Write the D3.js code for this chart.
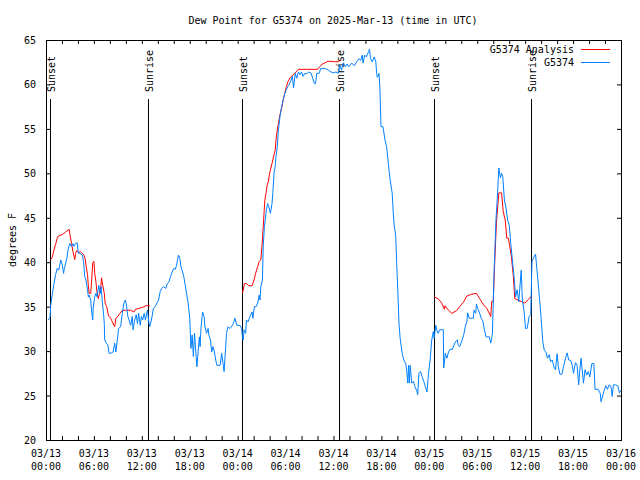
<!DOCTYPE html>
<html><head><meta charset="utf-8">
<script src="https://cdn.jsdelivr.net/npm/d3@7/dist/d3.min.js"></script>
<style>
body{margin:0;background:#fff;}
text{font-family:"DejaVu Sans Mono",monospace;font-size:10px;fill:#000;}
</style></head>
<body><svg id="c" width="640" height="480"></svg>
<script>
// ---- data (hours since 2025-03-13 00:00 UTC) ----
const titleText = "Dew Point for G5374 on 2025-Mar-13 (time in UTC)";
const yLabel = "degrees F";
const yTicks = [20,25,30,35,40,45,50,55,60,65];
const xLabelHours = [0,6,12,18,24,30,36,42,48,54,60,66,72];
const sunEvents = ["Sunset","Sunrise","Sunset","Sunrise","Sunset","Sunrise"];
const sunHours = [0.54,12.81,24.58,36.73,48.62,60.77];
const seriesNames = ["G5374 Analysis","G5374"];

const obsHours = [0.25,0.5,0.6,0.8,1.0,1.2,1.4,1.6,1.85,2.05,2.2,2.3,2.6,2.8,3.0,3.2,3.35,3.5,3.7,3.9,4.05,4.25,4.55,4.7,4.85,5.0,5.2,5.3,5.4,5.6,5.7,5.85,5.9,6.1,6.25,6.4,6.6,6.8,6.9,7.05,7.2,7.3,7.35,7.55,7.75,7.9,8.2,8.4,8.6,8.75,8.9,9.1,9.35,9.55,9.75,9.95,10.1,10.25,10.4,10.6,10.8,10.9,11.1,11.3,11.45,11.6,11.8,11.95,12.1,12.3,12.45,12.7,12.9,13.0,13.2,13.45,
13.65,13.9,14.1,14.3,14.5,14.7,15.0,15.2,15.4,15.6,15.8,16.0,16.2,16.35,16.5,16.6,16.75,16.9,17.1,17.25,17.4,17.6,17.8,18.0,18.15,18.3,18.45,18.6,18.8,18.9,19.0,19.2,19.3,19.4,19.6,19.8,19.9,20.1,20.3,20.4,20.6,20.75,20.9,21.1,21.25,21.4,21.8,22.0,22.2,22.3,22.5,22.6,22.8,23.0,23.2,23.45,23.65,23.9,24.3,24.5,24.6,
24.7,24.8,25.0,25.1,25.3,25.55,25.8,25.9,26.1,26.3,26.5,26.7,26.8,26.9,27.1,27.2,27.35,27.5,27.6,27.75,27.9,28.1,28.3,28.4,28.55,28.7,28.8,28.96,29.1,29.3,29.5,29.7,29.9,30.1,30.25,30.4,30.6,30.85,31.0,31.2,31.4,31.6,31.8,32.0,32.2,32.4,32.65,32.9,33.2,33.4,33.6,33.75,33.9,34.2,34.4,34.7,35.0,35.35,35.7,35.98,36.3,36.6,
36.8,37.0,37.2,37.5,37.7,37.9,38.3,38.6,38.9,39.2,39.4,39.6,39.7,39.9,40.1,40.4,40.5,40.65,40.85,41.1,41.3,41.4,41.5,41.7,41.8,41.95,42.2,42.45,42.65,42.8,42.95,43.1,43.35,43.5,43.6,43.8,43.9,44.05,44.2,44.35,44.6,44.8,45.05,45.2,45.3,45.4,45.5,45.6,45.8,46.0,46.2,46.4,46.55,46.7,46.9,47.1,47.3,47.5,47.7,47.9,48.1,48.3,48.5,48.6,48.8,49.0,49.1,49.3,49.75,49.8,50.0,50.2,50.4,50.6,50.9,51.1,51.3,51.5,51.6,51.8,52.05,52.3,52.5,52.7,52.8,53.0,53.5,53.6,53.8,53.9,54.05,54.25,54.5,54.7,54.9,55.1,55.5,55.7,55.9,56.1,56.35,56.5,56.7,56.9,57.05,57.2,57.4,57.6,57.8,58.0,58.2,58.4,58.65,58.8,59.0,59.2,59.5,59.65,59.85,60.05,60.25,60.5,60.7,60.85,61.1,61.3,61.5,61.7,62.0,62.2,62.4,62.6,62.8,63.0,63.2,63.4,63.6,63.8,64.0,64.15,64.35,64.6,64.8,65.0,65.25,65.46,65.7,65.9,66.05,66.3,66.5,66.7,66.8,67.0,67.1,67.3,67.5,67.7,67.9,68.1,68.35,68.6,68.75,69.15,69.4,69.5,69.7,69.9,70.1,70.3,70.5,70.75,70.9,71.05,71.3,71.6,71.8,72.0];
const obsValues = [33.5,33.7,35.2,36.5,37.6,38.6,39.3,39.1,40.25,39.7,38.75,39.3,40.4,41.6,42.1,41.75,42.1,41.8,42.1,42.2,41.0,41.0,40.8,40.1,38.4,38.0,36.9,36.1,36.3,35.75,34.6,33.5,34.8,36.1,36.5,36.1,37.4,36.5,37.25,35.55,34.25,33.1,31.25,30.9,30.7,29.75,29.8,29.9,30.9,29.9,31.05,32.55,32.75,34.25,35.4,35.75,35.0,33.9,33.5,32.9,33.9,32.4,33.5,34.1,33.1,34.25,32.9,33.9,33.5,34.25,33.5,34.6,33.1,32.75,33.5,34.8,
35.0,35.4,35.75,36.7,37.05,37.25,37.05,37.6,37.8,38.4,38.9,39.3,39.2,39.7,40.4,40.8,40.4,39.5,38.9,38.4,37.6,36.5,35.4,33.7,30.3,31.8,29.4,32.0,29.4,28.25,29.4,31.6,30.5,32.55,34.4,33.9,32.75,32.0,32.55,31.8,31.25,29.9,30.5,29.9,29.0,28.4,28.4,29.75,28.4,27.7,30.5,32.0,32.75,32.55,32.7,33.1,33.7,32.9,32.9,32.55,31.6,
31.25,32.4,32.0,33.5,33.3,33.9,34.4,33.7,35.0,35.0,35.4,36.3,35.75,37.25,38.0,41.75,44.0,45.1,45.9,46.6,46.25,45.5,46.6,47.75,50.0,50.75,51.9,53.0,54.9,56.4,57.5,58.25,59.0,59.4,59.75,59.9,60.3,60.9,59.6,61.25,60.7,61.4,61.1,61.4,60.9,61.25,61.2,61.4,61.25,60.7,60.1,60.1,61.25,61.25,61.8,61.8,61.8,61.6,61.4,61.3,61.4,61.25,
62.2,61.6,62.4,62.0,62.3,62.0,62.4,62.1,62.55,62.9,62.7,63.3,62.4,63.3,63.1,63.7,63.96,62.9,62.55,63.1,62.55,61.25,60.8,61.25,59.75,55.25,55.25,53.75,53.0,51.7,50.4,49.25,47.75,45.3,44.2,42.9,40.1,36.9,33.1,31.4,29.75,29.0,28.6,27.5,26.4,28.4,26.4,28.4,26.4,26.6,26.0,25.6,25.1,27.5,27.7,27.1,26.6,26.0,25.4,27.5,29.0,31.25,32.2,31.4,32.9,32.2,32.0,32.4,32.4,28.1,29.75,29.2,29.9,30.2,30.2,30.7,31.1,31.25,30.7,30.5,31.1,31.8,32.75,33.3,34.3,33.7,33.7,34.6,34.25,35.3,34.8,34.4,33.7,33.4,32.4,31.6,31.6,30.9,32.0,38.75,44.9,47.0,50.6,49.5,50.0,49.6,47.0,46.1,44.75,44.2,42.1,40.25,38.0,36.1,36.9,35.55,39.1,35.75,34.6,32.55,32.55,33.9,34.1,40.1,40.6,40.9,38.9,36.9,33.7,31.1,30.05,29.9,29.2,29.6,28.8,29.0,28.25,27.9,29.7,28.25,27.4,27.4,28.25,29.0,29.8,29.0,28.95,28.4,27.5,28.7,28.4,26.2,27.5,29.2,28.25,26.4,27.9,27.3,27.7,27.1,28.6,28.6,25.7,25.7,25.25,24.3,24.95,25.6,26.1,25.7,26.2,26.0,24.9,26.2,26.2,26.1,25.3,25.6];

// analysis: null marks a gap between night-time segments
const anaHours = [0.6,0.8,1.0,1.2,1.4,1.6,2.05,2.45,2.9,3.0,3.2,3.3,3.4,3.6,3.7,3.85,4.1,4.3,4.55,4.75,4.9,5.0,5.2,5.3,5.4,5.6,5.7,5.85,6.0,6.1,6.25,6.4,6.55,6.7,6.85,6.95,7.1,7.3,7.4,7.6,7.8,7.9,8.1,8.3,8.5,8.6,8.75,9.0,9.25,9.55,9.95,10.6,11.0,11.2,11.6,12.05,12.5,12.9,13.0,
null,
24.6,24.7,24.85,25.1,25.4,25.8,26.05,26.25,26.5,26.7,26.9,27.1,27.3,27.4,27.55,27.7,27.85,27.96,28.1,28.3,28.55,28.7,28.8,28.96,29.1,29.3,29.5,29.7,29.9,30.1,30.3,30.6,30.96,31.3,31.6,32.0,32.8,33.7,34.0,34.3,34.6,34.96,35.3,35.7,36.2,36.6,36.9,
null,
48.6,49.1,49.55,49.9,49.95,50.4,50.8,51.4,51.8,52.3,52.7,53.3,53.9,54.3,54.8,55.2,55.7,55.8,56.0,56.2,56.4,56.7,57.05,57.25,57.5,57.7,57.9,58.25,58.5,58.7,59.55,59.95,60.4,60.8];
const anaValues = [40.3,40.6,41.4,42.0,42.7,43.0,43.1,43.4,43.7,43.1,42.1,41.6,41.1,40.3,41.0,41.3,41.1,41.2,41.0,40.8,40.4,39.7,38.6,37.4,36.5,36.5,37.8,39.9,40.1,38.75,37.8,36.5,35.9,36.5,37.1,38.25,37.4,36.5,35.4,35.0,34.1,33.9,33.7,33.3,32.9,32.75,33.7,33.9,34.25,34.55,34.6,34.6,34.4,34.7,34.8,34.9,35.1,35.1,35.1,
null,
36.5,36.9,37.6,37.6,37.35,37.35,38.0,38.75,39.5,40.1,40.25,42.5,45.5,47.0,47.75,48.7,49.1,49.8,50.4,51.1,52.1,52.6,53.75,54.9,55.6,56.6,57.3,58.25,59.0,59.75,60.3,60.8,61.1,61.4,61.7,61.7,61.7,61.7,61.7,62.0,62.3,62.45,62.6,62.6,62.55,62.55,62.75,
null,
36.1,35.9,35.4,34.7,35.1,34.6,34.25,34.55,35.0,35.55,36.2,36.4,36.5,35.9,35.2,34.8,33.9,35.55,35.55,40.25,44.4,47.8,47.8,45.7,44.75,42.7,42.7,40.8,38.6,35.9,35.55,35.4,35.8,36.2];

// ---- drawing ----
const W = 640, H = 480;
const m = {left:46, right:621, top:40, bottom:440};
const svg = d3.select("#c");
svg.append("rect").attr("width",W).attr("height",H).attr("fill","#fff");

const x = d3.scaleLinear().domain([0,72]).range([m.left,m.right]);
const y = d3.scaleLinear().domain([20,65]).range([m.bottom,m.top]);

const tickHours = d3.range(0,73,2);
const fmtDate = h => { const d = new Date(Date.UTC(2025,2,13) + h*3600000);
  return [d3.utcFormat("%m/%d")(d), d3.utcFormat("%H:%M")(d)]; };

// bottom axis
const gx = svg.append("g").attr("transform",`translate(0,${m.bottom})`)
  .call(d3.axisBottom(x).tickValues(tickHours).tickSizeInner(-4).tickSizeOuter(0).tickFormat(""));
gx.select(".domain").remove();
gx.selectAll("line").attr("stroke","#000");
// top mirror
const gxt = svg.append("g").attr("transform",`translate(0,${m.top})`)
  .call(d3.axisTop(x).tickValues(tickHours).tickSizeInner(-4).tickSizeOuter(0).tickFormat(""));
gxt.select(".domain").remove();
gxt.selectAll("line").attr("stroke","#000");
// x labels (two lines)
const xl = svg.append("g").selectAll("text").data(xLabelHours).join("text")
  .attr("x", d => x(d)).attr("text-anchor","middle");
xl.append("tspan").attr("x", d => x(d)).attr("y", 457).text(d => fmtDate(d)[0]);
xl.append("tspan").attr("x", d => x(d)).attr("y", 470).text(d => fmtDate(d)[1]);

// left axis
const gy = svg.append("g").attr("transform",`translate(${m.left},0)`)
  .call(d3.axisLeft(y).tickValues(yTicks).tickSizeInner(-4).tickSizeOuter(0).tickPadding(10));
gy.select(".domain").remove();
gy.selectAll("line").attr("stroke","#000");
gy.selectAll("text").attr("font-family","DejaVu Sans Mono").attr("font-size",10).attr("fill","#000").attr("dy","0.35em");
const gyr = svg.append("g").attr("transform",`translate(${m.right},0)`)
  .call(d3.axisRight(y).tickValues(yTicks).tickSizeInner(-4).tickSizeOuter(0).tickFormat(""));
gyr.select(".domain").remove();
gyr.selectAll("line").attr("stroke","#000");

// frame
svg.append("rect").attr("x",m.left+0.5).attr("y",m.top+0.5)
  .attr("width",m.right-m.left).attr("height",m.bottom-m.top)
  .attr("fill","none").attr("stroke","#000").attr("stroke-width",1);

// sunrise/sunset lines
const sg = svg.append("g");
sunHours.forEach((h,i) => {
  const px = Math.round(x(h)) + 0.5;
  sg.append("line").attr("x1",px).attr("x2",px).attr("y1",99).attr("y2",m.bottom)
    .attr("stroke","#000").attr("stroke-width",1);
  sg.append("text").attr("transform",`translate(${px+4},92) rotate(-90)`)
    .attr("text-anchor","start").text(sunEvents[i]);
});

// series
const obs = obsHours.map((h,i) => ({h, v: obsValues[i]}));
const ana = anaHours.map((h,i) => ({h, v: anaValues[i]}));
const line = d3.line().defined(d => d.h !== null && d.v !== null)
  .x(d => x(d.h)).y(d => y(d.v));
svg.append("path").datum(ana).attr("d", line).attr("fill","none")
  .attr("stroke","#ff0000").attr("stroke-width",1);
svg.append("path").datum(obs).attr("d", line).attr("fill","none")
  .attr("stroke","#0080ff").attr("stroke-width",1);

// legend
const legColors = ["#ff0000","#0080ff"];
seriesNames.forEach((n,i) => {
  const ly = 49.5 + i*13;
  svg.append("text").attr("x",574).attr("y",ly).attr("dy","0.35em")
    .attr("text-anchor","end").text(n);
  svg.append("line").attr("x1",581).attr("x2",610).attr("y1",ly).attr("y2",ly)
    .attr("stroke",legColors[i]).attr("stroke-width",1);
});

// title and y label
svg.append("text").attr("x",333).attr("y",20).attr("dy","0.35em")
  .attr("text-anchor","middle").text(titleText);
svg.append("text").attr("transform","translate(12,240) rotate(-90)")
  .attr("text-anchor","middle").attr("dy","0.35em").text(yLabel);
</script></body></html>
